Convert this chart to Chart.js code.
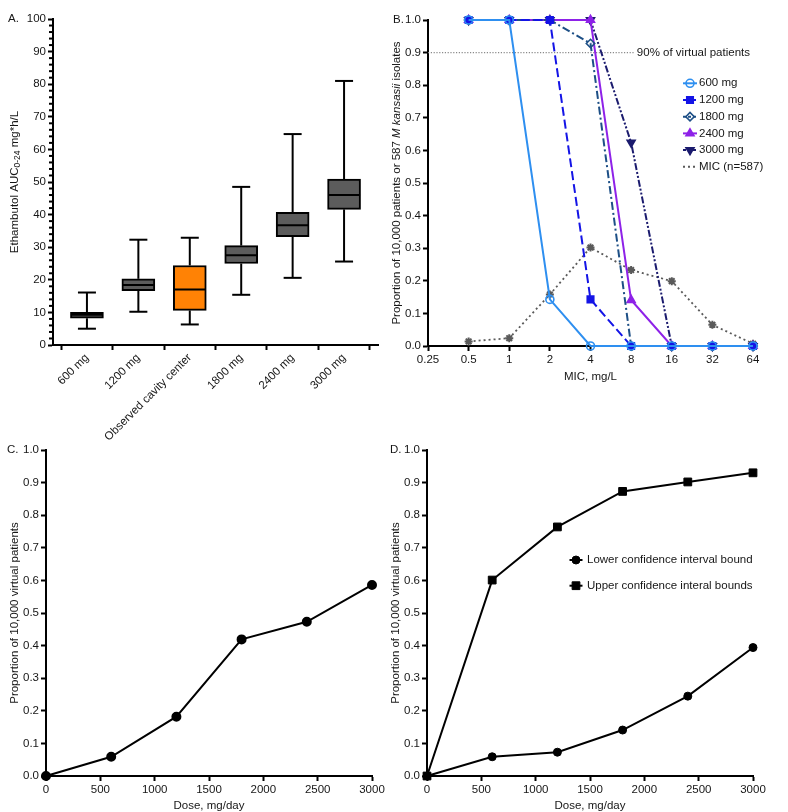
<!DOCTYPE html>
<html>
<head>
<meta charset="utf-8">
<script src="https://cdn.jsdelivr.net/npm/chart.js@4.4.1/dist/chart.umd.min.js"></script>
<style>
  html, body { margin: 0; padding: 0; background: #fff; }
  #wrap { position: relative; width: 788px; height: 812px; overflow: hidden; }
  #wrap canvas { position: absolute; }
</style>
</head>
<body>
<div id="wrap">
  <canvas id="panelC" width="390" height="392" style="left:0;top:420px"></canvas>
  <canvas id="panelD" width="398" height="392" style="left:390px;top:420px"></canvas>
  <canvas id="panelA" width="390" height="445" style="left:0;top:0"></canvas>
  <canvas id="panelB" width="398" height="383" style="left:390px;top:0"></canvas>
</div>
<script>
// ---------- panel A : AUC box plots ----------
const boxLabels = ['600 mg', '1200 mg', 'Observed cavity center', '1800 mg', '2400 mg', '3000 mg'];
const boxMin    = [5.0, 10.2, 6.3, 15.4, 20.6, 25.6];
const boxQ1     = [8.2, 16.7, 10.6, 25.0, 33.2, 41.6];
const boxMedian = [9.3, 18.4, 17.0, 27.5, 36.7, 46.0];
const boxQ3     = [10.0, 20.3, 24.4, 30.5, 40.7, 50.9];
const boxMax    = [16.1, 32.3, 32.9, 48.5, 64.7, 81.0];

// ---------- panel B : PTA by MIC ----------
const micValues = [0.5, 1, 2, 4, 8, 16, 32, 64];
const micTicks  = [0.25, 0.5, 1, 2, 4, 8, 16, 32, 64];
const pta600  = [1, 1, 0.143, 0, 0, 0, 0, 0];
const pta1200 = [1, 1, 1, 0.143, 0, 0, 0, 0];
const pta1800 = [1, 1, 1, 0.928, 0, 0, 0, 0];
const pta2400 = [1, 1, 1, 1, 0.141, 0, 0, 0];
const pta3000 = [1, 1, 1, 1, 0.624, 0, 0, 0];
const micDistribution = [0.014, 0.024, 0.158, 0.302, 0.233, 0.199, 0.065, 0.007];
const targetLevel = 0.9;

// ---------- panels C and D : CFR by dose ----------
const doses      = [0, 600, 1200, 1800, 2400, 3000];
const cfrByDose  = [0, 0.059, 0.182, 0.419, 0.473, 0.586];
const lowerBound = [0, 0.059, 0.073, 0.141, 0.245, 0.394];
const upperBound = [0, 0.601, 0.764, 0.873, 0.902, 0.930];

const FONT = "'Liberation Sans', Arial, Helvetica, sans-serif";
const TXT = '#161616';
const tickFont = { family: FONT, size: 11.5 };

function axisStyle(extra) {
  return Object.assign({
    border: { display: true, color: '#000', width: 2 },
    grid: { display: true, drawOnChartArea: false, drawTicks: true, tickLength: 5, tickWidth: 2, tickColor: '#000' }
  }, extra);
}

function drawLabel(ctx, text, x, y, font, align) {
  ctx.save();
  ctx.font = font || `11.5px ${FONT}`;
  ctx.fillStyle = TXT;
  ctx.textAlign = align || 'left';
  ctx.textBaseline = 'middle';
  ctx.fillText(text, x, y);
  ctx.restore();
}

// rotated axis title made of several pieces (subscript / italic)
function drawVerticalTitle(ctx, parts, cx, cy) {
  ctx.save();
  ctx.translate(cx, cy);
  ctx.rotate(-Math.PI / 2);
  ctx.fillStyle = TXT;
  ctx.textBaseline = 'middle';
  ctx.textAlign = 'left';
  let total = 0;
  parts.forEach(p => { ctx.font = p.font; p.w = ctx.measureText(p.text).width; total += p.w; });
  let x = -total / 2;
  parts.forEach(p => { ctx.font = p.font; ctx.fillText(p.text, x, p.dy || 0); x += p.w; });
  ctx.restore();
}

function seg(ctx, x1, y1, x2, y2) {
  ctx.beginPath();
  ctx.moveTo(x1, y1);
  ctx.lineTo(x2, y2);
  ctx.stroke();
}

// legend drawn inside the plot area
function legendPlugin(id, sx, lineLen, textX, y0, dy) {
  return {
    id: id,
    afterDraw(chart) {
      const ctx = chart.ctx;
      chart.data.datasets.forEach((ds, i) => {
        const y = y0 + i * dy;
        ctx.save();
        ctx.strokeStyle = ds.borderColor;
        ctx.lineWidth = 2;
        ctx.setLineDash(ds.legendDash || []);
        seg(ctx, sx - lineLen / 2, y, sx + lineLen / 2, y);
        ctx.setLineDash([]);
        if (ds.legendMarker !== false && Chart.helpers && Chart.helpers.drawPoint) {
          ctx.fillStyle = ds.pointBackgroundColor;
          ctx.strokeStyle = ds.pointBorderColor;
          ctx.lineWidth = ds.pointBorderWidth;
          Chart.helpers.drawPoint(ctx, {
            pointStyle: ds.pointStyle, radius: ds.pointRadius,
            rotation: ds.pointRotation || 0, borderWidth: ds.pointBorderWidth
          }, sx, y);
        }
        ctx.restore();
        drawLabel(ctx, ds.label, textX, y);
      });
    }
  };
}

// ====================== PANEL A ======================
const boxPlugin = {
  id: 'boxWhiskers',
  afterDatasetsDraw(chart) {
    const { ctx, chartArea, scales: { x, y } } = chart;
    ctx.save();
    ctx.strokeStyle = '#000';
    ctx.lineWidth = 2;
    boxLabels.forEach((_, i) => {
      const px = x.getPixelForValue(i);
      const yMin = y.getPixelForValue(boxMin[i]);
      const yMax = y.getPixelForValue(boxMax[i]);
      const yMed = y.getPixelForValue(boxMedian[i]);
      seg(ctx, px, yMin, px, y.getPixelForValue(boxQ1[i]));
      seg(ctx, px, y.getPixelForValue(boxQ3[i]), px, yMax);
      seg(ctx, px - 9, yMin, px + 9, yMin);
      seg(ctx, px - 9, yMax, px + 9, yMax);
      seg(ctx, px - 16, yMed, px + 16, yMed);
    });
    // minor ticks on the y axis
    for (let v = 2; v < 100; v += 2) {
      if (v % 10 === 0) continue;
      const py = y.getPixelForValue(v);
      seg(ctx, chartArea.left - 4, py, chartArea.left, py);
    }
    ctx.restore();
  },
  afterDraw(chart) {
    const ctx = chart.ctx;
    drawLabel(ctx, 'A.', 8, 19);
    const cy = (chart.chartArea.top + chart.chartArea.bottom) / 2;
    drawVerticalTitle(ctx, [
      { text: 'Ethambutol AUC', font: `11.5px ${FONT}` },
      { text: '0-24', font: `8.5px ${FONT}`, dy: 3 },
      { text: ' mg*h/L', font: `11.5px ${FONT}` }
    ], 15, cy);
  }
};

new Chart(document.getElementById('panelA'), {
  type: 'bar',
  data: {
    datasets: [{
      data: boxLabels.map((_, i) => ({ x: i, y: [boxQ1[i], boxQ3[i]] })),
      backgroundColor: boxLabels.map((_, i) => i === 2 ? '#ff8205' : '#5c5c5c'),
      borderColor: '#000',
      borderWidth: 2,
      borderSkipped: false,
      barThickness: 33
    }]
  },
  options: {
    responsive: false,
    animation: false,
    devicePixelRatio: 1,
    layout: { padding: { top: 19, right: 12, left: 0, bottom: 0 } },
    plugins: { legend: { display: false }, tooltip: { enabled: false } },
    scales: {
      x: axisStyle({
        type: 'linear',
        offset: false,
        min: -0.66,
        max: 5.66,
        afterBuildTicks: s => { s.ticks = boxLabels.map((_, i) => ({ value: i })); },
        afterFit: s => { s.height = 100; },
        ticks: { callback: v => boxLabels[v], minRotation: 45, maxRotation: 45, autoSkip: false, font: tickFont, color: TXT, padding: 1 }
      }),
      y: axisStyle({
        min: 0,
        max: 100,
        afterFit: s => { s.width = 53; },
        ticks: { stepSize: 10, font: tickFont, color: TXT, padding: 2 }
      })
    }
  },
  plugins: [boxPlugin]
});

// ====================== PANEL B ======================
const OPEN = 'rgba(255,255,255,0)';
const doseStyles = [
  { label: '600 mg',  values: pta600,  color: '#2e8ff0', dash: [],             point: 'circle',   fill: OPEN, radius: 4 },
  { label: '1200 mg', values: pta1200, color: '#1414e6', dash: [9, 4],         point: 'rect',     fill: '#1414e6', radius: 4.6 },
  { label: '1800 mg', values: pta1800, color: '#1d4f86', dash: [8, 3, 2, 3],   point: 'rectRot',  fill: OPEN, radius: 4.2 },
  { label: '2400 mg', values: pta2400, color: '#8e22e8', dash: [],             point: 'triangle', fill: '#8e22e8', radius: 4.6 },
  { label: '3000 mg', values: pta3000, color: '#1b1b6e', dash: [7, 2, 2, 2, 2, 2], point: 'triangle', fill: '#1b1b6e', radius: 4.6, rotation: 180 }
];

const bDatasets = doseStyles.map(s => ({
  label: s.label,
  data: micValues.map((m, i) => ({ x: m, y: s.values[i] })),
  borderColor: s.color,
  backgroundColor: s.color,
  borderWidth: 2,
  borderDash: s.dash,
  legendDash: s.dash.length ? [3, 2] : [],
  pointStyle: s.point,
  pointRadius: s.radius,
  pointRotation: s.rotation || 0,
  pointBackgroundColor: s.fill,
  pointBorderColor: s.color,
  pointBorderWidth: 1.6,
  tension: 0,
  clip: false
}));
bDatasets.push({
  label: 'MIC (n=587)',
  data: micValues.map((m, i) => ({ x: m, y: micDistribution[i] })),
  borderColor: '#5a5a5a',
  backgroundColor: '#5a5a5a',
  borderWidth: 1.8,
  borderDash: [2, 3],
  legendDash: [2, 3],
  legendMarker: false,
  pointStyle: 'star',
  pointRadius: 4,
  pointBackgroundColor: '#5a5a5a',
  pointBorderColor: '#5a5a5a',
  pointBorderWidth: 2,
  tension: 0,
  clip: false
});

const targetPlugin = {
  id: 'targetLine',
  beforeDatasetsDraw(chart) {
    const { ctx, chartArea, scales: { y } } = chart;
    const py = y.getPixelForValue(targetLevel);
    ctx.save();
    ctx.font = `11.5px ${FONT}`;
    const label = '90% of virtual patients';
    const tx = chartArea.right - 3 - ctx.measureText(label).width;
    ctx.strokeStyle = '#8a8a8a';
    ctx.lineWidth = 1.2;
    ctx.setLineDash([1.2, 1.6]);
    seg(ctx, chartArea.left, py, tx - 3, py);
    ctx.restore();
    drawLabel(ctx, label, tx, py);
  },
  afterDraw(chart) {
    const ctx = chart.ctx;
    drawLabel(ctx, 'B.', 3, 20);
    const cy = (chart.chartArea.top + chart.chartArea.bottom) / 2;
    drawVerticalTitle(ctx, [
      { text: 'Proportion of 10,000 patients or 587 ', font: `11.5px ${FONT}` },
      { text: 'M kansasii', font: `italic 11.5px ${FONT}` },
      { text: ' isolates', font: `11.5px ${FONT}` }
    ], 7, cy);
  }
};

new Chart(document.getElementById('panelB'), {
  type: 'line',
  data: { datasets: bDatasets },
  options: {
    responsive: false,
    animation: false,
    devicePixelRatio: 1,
    layout: { padding: { top: 20, right: 35, left: 0, bottom: 0 } },
    plugins: { legend: { display: false }, tooltip: { enabled: false } },
    scales: {
      x: axisStyle({
        type: 'logarithmic',
        min: 0.25,
        max: 64,
        afterBuildTicks: s => { s.ticks = micTicks.map(v => ({ value: v })); },
        afterFit: s => { s.height = 37; },
        ticks: { callback: v => String(v), autoSkip: false, maxRotation: 0, font: tickFont, color: TXT, padding: 2 },
        title: { display: true, text: 'MIC, mg/L', color: TXT, font: { family: FONT, size: 11.5, lineHeight: 1 }, padding: 0 }
      }),
      y: axisStyle({
        min: 0,
        max: 1,
        afterFit: s => { s.width = 38; },
        ticks: { stepSize: 0.1, callback: v => v.toFixed(1), font: tickFont, color: TXT, padding: 2 }
      })
    }
  },
  plugins: [targetPlugin, legendPlugin('legendB', 300, 14, 309, 83.3, 16.7)]
});

// ====================== PANELS C and D ======================
function doseAxes(yWidth, yTitlePad) {
  return {
    x: axisStyle({
      type: 'linear',
      min: 0,
      max: 3000,
      afterFit: s => { s.height = 36; },
      ticks: { stepSize: 500, callback: v => String(v), maxRotation: 0, font: tickFont, color: TXT, padding: 2 },
      title: { display: true, text: 'Dose, mg/day', color: TXT, font: { family: FONT, size: 11.5, lineHeight: 1 }, padding: 0 }
    }),
    y: axisStyle({
      min: 0,
      max: 1,
      afterFit: s => { s.width = yWidth; },
      ticks: { stepSize: 0.1, callback: v => v.toFixed(1), font: tickFont, color: TXT, padding: 2 },
      title: { display: true, text: 'Proportion of 10,000 virtual patients', color: TXT,
               font: { family: FONT, size: 11.5, lineHeight: 1 }, padding: { top: yTitlePad, bottom: 0 } }
    })
  };
}

function letterPlugin(letter, x, y) {
  return { id: 'letter' + letter, afterDraw(chart) { drawLabel(chart.ctx, letter, x, y); } };
}

new Chart(document.getElementById('panelC'), {
  type: 'line',
  data: {
    datasets: [{
      label: 'CFR',
      data: doses.map((d, i) => ({ x: d, y: cfrByDose[i] })),
      borderColor: '#000',
      backgroundColor: '#000',
      borderWidth: 2,
      pointStyle: 'circle',
      pointRadius: 4,
      pointBackgroundColor: '#000',
      pointBorderColor: '#000',
      tension: 0,
      clip: false
    }]
  },
  options: {
    responsive: false,
    animation: false,
    devicePixelRatio: 1,
    layout: { padding: { top: 30, right: 18, left: 0, bottom: 0 } },
    plugins: { legend: { display: false }, tooltip: { enabled: false } },
    scales: doseAxes(46, 9)
  },
  plugins: [letterPlugin('C.', 7, 30)]
});

new Chart(document.getElementById('panelD'), {
  type: 'line',
  data: {
    datasets: [{
      label: 'Lower confidence interval bound',
      data: doses.map((d, i) => ({ x: d, y: lowerBound[i] })),
      borderColor: '#000',
      backgroundColor: '#000',
      borderWidth: 2,
      pointStyle: 'circle',
      pointRadius: 4,
      pointBackgroundColor: '#000',
      pointBorderColor: '#000',
      pointBorderWidth: 1,
      tension: 0,
      clip: false
    }, {
      label: 'Upper confidence interal bounds',
      data: doses.map((d, i) => ({ x: d, y: upperBound[i] })),
      borderColor: '#000',
      backgroundColor: '#000',
      borderWidth: 2,
      pointStyle: 'rect',
      pointRadius: 5.5,
      pointBackgroundColor: '#000',
      pointBorderColor: '#000',
      pointBorderWidth: 1,
      tension: 0,
      clip: false
    }]
  },
  options: {
    responsive: false,
    animation: false,
    devicePixelRatio: 1,
    layout: { padding: { top: 30, right: 35, left: 0, bottom: 0 } },
    plugins: { legend: { display: false }, tooltip: { enabled: false } },
    scales: doseAxes(37, 0)
  },
  plugins: [letterPlugin('D.', 0, 30), legendPlugin('legendD', 186, 13, 197, 140, 25.7)]
});
</script>
</body>
</html>
